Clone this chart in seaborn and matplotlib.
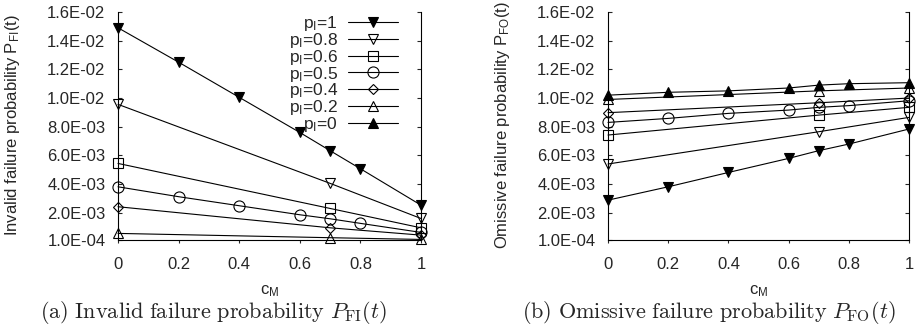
import numpy as np
import pandas as pd
import matplotlib
matplotlib.use('Agg')
import matplotlib.pyplot as plt
from matplotlib.lines import Line2D
from matplotlib.ticker import FormatStrFormatter
import seaborn as sns

sns.set_style('ticks')
plt.rcParams['font.family'] = ['Liberation Sans', 'DejaVu Sans']
plt.rcParams['mathtext.fontset'] = 'custom'
plt.rcParams['mathtext.rm'] = 'Liberation Sans'
plt.rcParams['mathtext.it'] = 'Liberation Sans:italic'
plt.rcParams['mathtext.bf'] = 'Liberation Sans:bold'

"""c_M values (full sweep and the sparse one)"""
cm_full = [0, 0.2, 0.4, 0.6, 0.7, 0.8, 1]
cm_few = [0, 0.7, 1]

p_labels = ['1', '0.8', '0.6', '0.5', '0.4', '0.2', '0']
y_ticks = [1e-4, 2e-3, 4e-3, 6e-3, 8e-3, 1e-2, 1.2e-2, 1.4e-2, 1.6e-2]
x_ticks = [0, 0.2, 0.4, 0.6, 0.8, 1]

"""(a) invalid failure probability P_FI(t)"""
fi_p1 = [1.49e-2, 1.25e-2, 1.005e-2, 7.6e-3, 6.33e-3, 5.07e-3, 2.53e-3]
fi_p08 = [9.56e-3, 4.05e-3, 1.6e-3]
fi_p06 = [5.44e-3, 2.3e-3, 0.95e-3]
fi_p05 = [3.81e-3, 3.12e-3, 2.49e-3, 1.86e-3, 1.58e-3, 1.26e-3, 0.63e-3]
fi_p04 = [2.42e-3, 0.95e-3, 0.44e-3]
fi_p02 = [0.56e-3, 0.26e-3, 0.14e-3]
fi_p0 = [0, 0, 0, 0, 0, 0, 0]

"""(b) omissive failure probability P_FO(t)"""
fo_p1 = [2.88e-3, 3.81e-3, 4.81e-3, 5.79e-3, 6.33e-3, 6.79e-3, 7.84e-3]
fo_p08 = [5.4e-3, 7.65e-3, 8.65e-3]
fo_p06 = [7.42e-3, 8.81e-3, 9.35e-3]
fo_p05 = [8.3e-3, 8.58e-3, 8.93e-3, 9.16e-3, 9.35e-3, 9.47e-3, 9.81e-3]
fo_p04 = [8.98e-3, 9.67e-3, 1.0e-2]
fo_p02 = [9.9e-3, 1.05e-2, 1.07e-2]
fo_p0 = [1.02e-2, 1.04e-2, 1.05e-2, 1.07e-2, 1.09e-2, 1.10e-2, 1.107e-2]

xs = [cm_full, cm_few, cm_few, cm_full, cm_few, cm_few, cm_full]
fi_all = [fi_p1, fi_p08, fi_p06, fi_p05, fi_p04, fi_p02, fi_p0]
fo_all = [fo_p1, fo_p08, fo_p06, fo_p05, fo_p04, fo_p02, fo_p0]

# marker, filled, size
styles = [('v', True, 7), ('v', False, 7), ('s', False, 7.5), ('o', False, 8),
          ('D', False, 5.5), ('^', False, 7), ('^', True, 7)]
ymin, ymax = 1e-4, 1.6e-2
FS = 12


def draw(ax, series, ylabel):
    for x, y, (m, filled, ms) in zip(xs, series, styles):
        d = pd.DataFrame({'c': x, 'p': y})
        d = d[d['p'] >= ymin]  # points out of range are not drawn
        if d.empty:
            continue
        sns.lineplot(data=d, x='c', y='p', ax=ax, color='black', lw=0.8,
                     marker=m, markersize=ms,
                     markerfacecolor='black' if filled else 'none',
                     markeredgecolor='black', markeredgewidth=0.8,
                     clip_on=False)
    ax.set_xlim(0, 1)
    ax.set_ylim(ymin, ymax)
    ax.set_yticks(y_ticks)
    ax.set_xticks(x_ticks)
    ax.yaxis.set_major_formatter(FormatStrFormatter('%.1E'))
    ax.xaxis.set_major_formatter(FormatStrFormatter('%g'))
    ax.spines['top'].set_visible(False)
    for s in ['left', 'right', 'bottom']:
        ax.spines[s].set_linewidth(0.8)
        ax.spines[s].set_color('black')
    ax.tick_params(axis='y', direction='in', length=3, width=0.8,
                   left=True, right=True, pad=9, labelsize=FS)
    ax.tick_params(axis='x', direction='out', length=2.5, width=0.8,
                   pad=10, labelsize=FS)
    ax.set_ylabel(ylabel, fontsize=12)
    ax.set_xlabel(r'c$_{\rm M}$', fontsize=FS)
    ax.yaxis.set_label_coords(-0.318, 0.505)
    ax.xaxis.set_label_coords(0.5, -0.19)


fig = plt.figure(figsize=(9.23, 3.35), dpi=100)
ax1 = fig.add_axes([118 / 923, 95 / 335, 303 / 923, 228 / 335])
ax2 = fig.add_axes([608 / 923, 95 / 335, 301 / 923, 228 / 335])

draw(ax1, fi_all, r'Invalid failure probability P$_{\rm FI}$(t)')
draw(ax2, fo_all, r'Omissive failure probability P$_{\rm FO}$(t)')

handles = [Line2D([0], [0], color='black', lw=0.8, marker=m, markersize=ms,
                  markerfacecolor='black' if filled else 'none',
                  markeredgecolor='black', markeredgewidth=0.8)
           for m, filled, ms in styles]
labels = [r'p$_{\rm I}$=' + p for p in p_labels]
ax1.legend(handles, labels, loc='upper right', bbox_to_anchor=(0.924, 0.99),
           frameon=False, markerfirst=False, fontsize=12.5, handlelength=2.9,
           handletextpad=0.55, labelspacing=-0.13, borderpad=0, borderaxespad=0)

fig.text(213 / 923, 1 - 312 / 335,
         r'$\mathrm{(a)\ Invalid\ failure\ probability}\ P_{\mathrm{FI}}(t)$',
         ha='center', va='center', fontsize=16, math_fontfamily='cm')
fig.text(709 / 923, 1 - 312 / 335,
         r'$\mathrm{(b)\ Omissive\ failure\ probability}\ P_{\mathrm{FO}}(t)$',
         ha='center', va='center', fontsize=16, math_fontfamily='cm')

fig.savefig('out.png', dpi=100)
